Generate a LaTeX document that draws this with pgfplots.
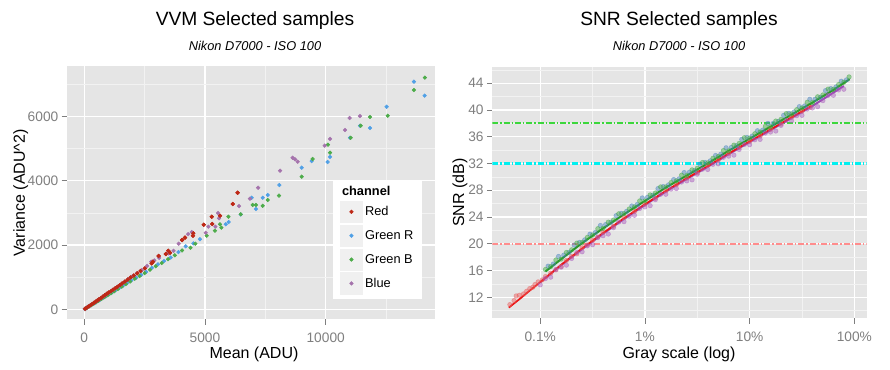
\documentclass[border=0pt]{standalone}
\usepackage{pgfplots}
\pgfplotsset{compat=1.18}
\usepackage{pgfplotstable}
\usepackage{fontspec}
\setmainfont{Liberation Sans}

\definecolor{ggbg}{RGB}{229,229,229}
\definecolor{ggminor}{RGB}{242,242,242}
\definecolor{ggtick}{RGB}{127,127,127}
\definecolor{cRed}{RGB}{190,40,22}
\definecolor{cGR}{RGB}{80,160,230}
\definecolor{cGB}{RGB}{77,172,74}
\definecolor{cBlue}{RGB}{165,115,172}
\definecolor{lnRed}{RGB}{235,20,20}
\definecolor{lnGreen}{RGB}{40,150,40}
\definecolor{lnPurple}{RGB}{155,75,180}
\definecolor{ptRed}{RGB}{235,90,90}
\definecolor{ptBlue}{RGB}{70,130,190}
\definecolor{ptGreen}{RGB}{60,170,60}
\definecolor{ptPurple}{RGB}{170,90,190}
\definecolor{lnPink}{RGB}{255,140,140}
\definecolor{lnCyan}{RGB}{0,240,240}
\definecolor{lnLime}{RGB}{60,215,60}

% ---------------- VVM data (mean, variance) ----------------
\pgfplotstableread{
m v
30 15
80 40
140 70
200 100
260 130
330 165
400 200
470 235
540 275
610 310
690 350
770 395
850 435
930 480
1010 520
1100 560
1190 610
1280 655
1370 700
1470 750
1570 805
1680 860
1800 925
1920 990
2050 1050
2190 1120
2330 1190
2510 1275
2790 1430
2840 1480
3080 1658
3380 1720
3550 1760
3480 1820
4050 2155
4170 2230
4500 2290
4515 2365
4950 2630
5300 2655
5280 2880
5620 2910
6150 3275
6350 3625
}\vvmRed
\pgfplotstableread{
m v
25 10
100 45
180 85
270 125
360 165
460 210
560 255
670 305
780 355
900 410
1020 465
1150 525
1290 590
1440 660
1600 735
1770 815
1950 900
2150 985
2350 1070
2560 1165
2800 1290
3050 1400
3300 1500
3580 1610
3900 1780
4200 1960
4520 2050
4790 2180
5860 2645
5980 2715
6480 2950
6930 3470
7110 3120
7390 3470
7600 3555
8080 3865
9005 4405
9420 4610
10080 4580
10180 4740
11005 5335
11420 5710
11835 5640
12525 6300
13655 7080
14100 6645
}\vvmGR
\pgfplotstableread{
m v
30 12
110 48
200 90
290 130
390 175
490 220
600 270
720 325
840 380
970 440
1100 500
1240 560
1390 630
1550 705
1720 785
1900 865
2090 950
2290 1035
2500 1125
2720 1230
2960 1340
3210 1440
3470 1560
3750 1680
4050 1830
4400 1915
4600 2040
5070 2290
5410 2445
5620 2645
5680 2540
5970 2880
6480 2955
6975 3245
7110 3245
7390 3220
7600 3400
8065 3535
9005 4125
9460 4675
10095 5120
10180 4870
11035 5335
11450 5710
11835 5980
12570 6020
13655 6820
14110 7205
}\vvmGB
\pgfplotstableread{
m v
25 12
90 45
160 80
240 120
320 160
410 205
500 250
600 300
700 355
800 405
910 460
1020 515
1140 580
1260 640
1390 705
1530 780
1680 860
1830 940
2000 1030
2180 1120
2380 1220
2600 1350
2775 1480
2900 1520
3100 1600
3500 1740
3700 1820
3910 2040
4300 2340
4450 2400
5030 2380
5140 2570
5430 2570
5540 2995
5580 2830
6410 3210
6860 3440
7200 3780
8110 4310
8630 4715
8730 4665
8840 4590
9960 5090
10180 5300
10800 5575
10990 5950
11420 6010
}\vvmBlue

% ---------------- SNR data (log10 gray scale, dB) ----------------
\pgfplotstableread{
x y
-2.95 16.15
-2.90 16.57
-2.85 17.58
-2.80 17.70
-2.75 18.70
-2.70 19.10
-2.65 20.10
-2.60 20.20
-2.55 20.95
-2.50 21.30
-2.45 22.25
-2.40 22.30
-2.35 23.23
-2.30 23.55
-2.25 24.48
-2.20 24.50
-2.15 25.20
-2.10 25.50
-2.05 26.40
-2.00 26.40
-1.95 27.30
-1.90 27.60
-1.85 28.50
-1.80 28.50
-1.75 29.15
-1.70 29.40
-1.65 30.25
-1.60 30.20
-1.55 31.05
-1.50 31.30
-1.45 32.15
-1.40 32.10
-1.35 32.78
-1.30 33.05
-1.25 33.93
-1.20 33.90
-1.15 34.75
-1.10 35.00
-1.05 35.85
-1.00 35.80
-0.95 36.45
-0.90 36.70
-0.85 37.55
-0.80 37.50
-0.75 38.35
-0.70 38.60
-0.65 39.45
-0.60 39.40
-0.55 40.05
-0.50 40.30
-0.45 41.15
-0.40 41.10
-0.35 41.98
-0.30 42.25
-0.25 43.13
-0.20 43.10
-0.15 43.80
-0.10 44.15
-0.05 44.95
}\snrGB
\pgfplotstableread{
x y
-2.925 16.65
-2.875 16.97
-2.825 18.10
-2.775 18.30
-2.725 18.70
-2.675 19.80
-2.625 20.20
-2.575 20.58
-2.525 21.43
-2.475 21.68
-2.425 22.73
-2.375 22.87
-2.325 23.20
-2.275 24.20
-2.225 24.55
-2.175 24.85
-2.125 25.65
-2.075 25.85
-2.025 26.85
-1.975 26.95
-1.925 27.25
-1.875 28.25
-1.825 28.55
-1.775 28.80
-1.725 29.60
-1.675 29.70
-1.625 30.65
-1.575 30.70
-1.525 30.95
-1.475 31.90
-1.425 32.15
-1.375 32.40
-1.325 33.20
-1.275 33.40
-1.225 34.35
-1.175 34.40
-1.125 34.65
-1.075 35.60
-1.025 35.90
-0.975 36.10
-0.925 36.90
-0.875 37.00
-0.825 38.00
-0.775 38.00
-0.725 38.30
-0.675 39.20
-0.625 39.50
-0.575 39.70
-0.525 40.50
-0.475 40.60
-0.425 41.60
-0.375 41.60
-0.325 41.90
-0.275 42.90
-0.225 43.20
-0.175 43.45
-0.125 44.30
-0.075 44.50
}\snrGR
\pgfplotstableread{
x y
-3.00 13.85
-2.95 14.80
-2.90 15.00
-2.85 16.15
-2.80 16.50
-2.75 16.80
-2.70 17.80
-2.65 18.70
-2.60 18.80
-2.55 19.68
-2.50 19.85
-2.45 20.93
-2.40 21.20
-2.35 21.45
-2.30 22.40
-2.25 23.25
-2.20 23.30
-2.15 24.13
-2.10 24.25
-2.05 25.28
-2.00 25.50
-1.95 25.70
-1.90 26.60
-1.85 27.40
-1.80 27.40
-1.75 28.18
-1.70 28.25
-1.65 29.23
-1.60 29.40
-1.55 29.55
-1.50 30.40
-1.45 31.15
-1.40 31.10
-1.35 31.88
-1.30 31.95
-1.25 32.93
-1.20 33.10
-1.15 33.25
-1.10 34.10
-1.05 34.85
-1.00 34.80
-0.95 35.55
-0.90 35.60
-0.85 36.55
-0.80 36.70
-0.75 36.85
-0.70 37.70
-0.65 38.45
-0.60 38.40
-0.55 39.15
-0.50 39.20
-0.45 40.15
-0.40 40.30
-0.35 40.50
-0.30 41.40
-0.25 42.20
-0.20 42.20
-0.15 43.00
-0.10 43.10
}\snrBlue
\pgfplotstableread{
x y
-3.29 10.9
-3.25 11.5
-3.23 12.2
-3.20 12.3
-3.16 12.5
-3.13 12.9
-3.10 13.3
-3.07 13.5
-3.05 13.9
-3.02 14.3
-2.98 14.6
-2.95 15.1
-2.90 15.6
-2.85 16.1
-2.80 16.6
-2.75 17.5
-2.70 18.1
-2.65 18.5
-2.60 19.4
-2.55 19.8
-2.50 20.5
-2.45 21.0
-2.40 21.7
-2.30 22.6
-2.20 23.9
-2.10 24.8
-2.00 25.9
-1.90 26.8
-1.80 27.9
-1.70 28.8
-1.60 29.8
-1.50 30.6
-1.40 31.7
-1.30 32.5
-1.20 33.5
-1.10 34.4
-1.00 35.3
-0.90 36.1
-0.80 37.1
-0.70 37.9
-0.60 38.9
-0.50 39.8
-0.42 40.4
}\snrRed
\pgfplotstableread{
x y
-2.95 15.85
-2.80 17.70
-2.60 20.10
-2.40 22.30
-2.20 24.40
-2.00 26.40
-1.80 28.40
-1.60 30.20
-1.40 32.00
-1.20 33.90
-1.00 35.70
-0.80 37.50
-0.60 39.30
-0.40 41.10
-0.20 43.00
-0.045 44.60
}\lineGreen
\pgfplotstableread{
x y
-3.00 14.25
-2.80 16.80
-2.60 19.20
-2.40 21.50
-2.20 23.70
-2.00 25.80
-1.80 27.80
-1.60 29.70
-1.40 31.50
-1.20 33.40
-1.00 35.20
-0.80 37.00
-0.60 38.80
-0.40 40.60
-0.20 42.60
-0.10 43.60
}\linePurple
\pgfplotstableread{
x y
-3.30 10.45
-3.20 11.70
-3.10 13.00
-3.00 14.25
-2.80 16.85
-2.60 19.30
-2.40 21.60
-2.20 23.80
-2.00 25.90
-1.80 27.90
-1.60 29.80
-1.40 31.60
-1.20 33.50
-1.00 35.30
-0.80 37.10
-0.60 38.90
-0.41 40.60
}\lineRed
\pgfplotstableread{
x r c g
-3.458 20 32 38
0.118 20 32 38
}\refLines

\pgfplotsset{
  gg/.style={
    scale only axis,
    axis background/.style={fill=ggbg},
    axis line style={draw=none},
    grid=both,
    major grid style={draw=white, line width=0.9pt},
    minor grid style={draw=ggminor, line width=0.45pt},
    tick pos=left,
    tick align=outside,
    major tick length=4pt,
    minor tick length=0pt,
    tick style={draw=ggtick, line width=0.6pt},
    tick label style={font=\fontsize{10.3}{12}\selectfont, text=ggtick},
    xticklabel style={yshift=-2.5pt},
    yticklabel style={xshift=1pt},
    scaled ticks=false,
    clip=true,
  },
  snrpts/.style={only marks, mark=*, mark size=1.7pt, draw=#1, fill=#1,
    opacity=0.45, mark options={draw=#1, fill=#1}},
  refline/.style={draw=#1, line width=1.6pt, no marks,
    dash pattern=on 4.5pt off 1.5pt on 1pt off 1.5pt},
}

\begin{document}
\begin{tikzpicture}[x=1pt,y=1pt]
\useasboundingbox (0,0) rectangle (667.5,277.5);

% ---------------- Left: VVM ----------------
\begin{axis}[gg,
  at={(50.25pt,38pt)}, anchor=south west,
  width=276pt, height=190pt,
  xmin=-717, xmax=14528, ymin=-311, ymax=7567,
  xtick={0,5000,10000}, xticklabels={0,5000,10000},
  minor xtick={2500,7500,12500},
  ytick={0,2000,4000,6000}, yticklabels={0,2000,4000,6000},
  minor ytick={1000,3000,5000,7000},
  legend cell align=left,
  legend style={at={(rel axis cs:0.7228,0.55)}, anchor=north west,
    draw=none, fill=white, font=\fontsize{9.6}{11.5}\selectfont,
    inner xsep=5.2pt, inner ysep=3.5pt, row sep=1.5pt, column sep=0.8pt,
    nodes={inner sep=1pt}},
  legend image code/.code={\fill[black!6] (-8.25pt,-8pt) rectangle (8.25pt,8pt);
     \draw[#1, only marks] plot coordinates {(0pt,0pt)};},
  every axis plot/.append style={only marks, mark=*, mark size=1.35pt},
]
\addlegendimage{empty legend}
\addlegendentry{\hspace{-17.3pt}\textbf{channel}}
\addplot[color=cRed, mark options={fill=cRed, draw=cRed}] table[x=m,y=v] {\vvmRed};
\addlegendentry{Red}
\addplot[color=cGR, mark options={fill=cGR, draw=cGR}] table[x=m,y=v] {\vvmGR};
\addlegendentry{Green R}
\addplot[color=cGB, mark options={fill=cGB, draw=cGB}] table[x=m,y=v] {\vvmGB};
\addlegendentry{Green B}
\addplot[color=cBlue, mark options={fill=cBlue, draw=cBlue}] table[x=m,y=v] {\vvmBlue};
\addlegendentry{Blue}
\addplot[color=cRed, mark options={fill=cRed, draw=cRed}, forget plot] table[x=m,y=v] {\vvmRed};
\end{axis}

% ---------------- Right: SNR ----------------
\begin{axis}[gg,
  at={(369.2pt,38.8pt)}, anchor=south west,
  width=280.8pt, height=188.25pt,
  xmin=-3.458, xmax=0.118, ymin=8.86, ymax=46.39,
  xtick={-3,-2,-1,0}, xticklabels={0.1\%,1\%,10\%,100\%},
  minor xtick={-2.5,-1.5,-0.5},
  ytick={12,16,20,24,28,32,36,40,44},
  yticklabels={12,16,20,24,28,32,36,40,44},
  minor ytick={10,14,18,22,26,30,34,38,42,46},
]
\addplot[refline=lnPink] table[x=x,y=r] {\refLines};
\addplot[refline=lnCyan] table[x=x,y=c] {\refLines};
\addplot[refline=lnLime] table[x=x,y=g] {\refLines};
\addplot[snrpts=ptRed] table[x=x,y=y] {\snrRed};
\addplot[snrpts=ptPurple] table[x=x,y=y] {\snrBlue};
\addplot[snrpts=ptBlue] table[x=x,y=y] {\snrGR};
\addplot[snrpts=ptGreen] table[x=x,y=y] {\snrGB};
\addplot[draw=lnPurple, line width=1.5pt, no marks] table[x=x,y=y] {\linePurple};
\addplot[draw=lnRed, line width=1.3pt, no marks] table[x=x,y=y] {\lineRed};
\addplot[draw=lnGreen, line width=1.5pt, no marks] table[x=x,y=y] {\lineGreen};
\end{axis}

% ---------------- Titles and axis titles ----------------
\node[font=\fontsize{14.4}{16}\selectfont] at (191.25,262) {VVM Selected samples};
\node[font=\fontsize{9.6}{11}\selectfont\itshape] at (191.25,243) {Nikon D7000 - ISO 100};
\node[font=\fontsize{14.4}{16}\selectfont] at (509.25,262) {SNR Selected samples};
\node[font=\fontsize{9.6}{11}\selectfont\itshape] at (509.25,243) {Nikon D7000 - ISO 100};
\node[font=\fontsize{12}{14}\selectfont] at (190.5,11.5) {Mean (ADU)};
\node[font=\fontsize{12}{14}\selectfont] at (509.25,11.5) {Gray scale (log)};
\node[font=\fontsize{12}{14}\selectfont, rotate=90] at (15.5,132.75) {Variance (ADU\textasciicircum 2)};
\node[font=\fontsize{12}{14}\selectfont, rotate=90] at (345,133.1) {SNR (dB)};
\end{tikzpicture}
\end{document}
